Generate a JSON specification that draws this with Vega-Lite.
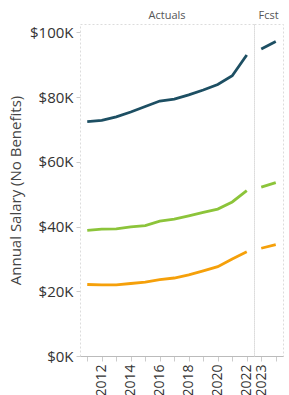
{
  "$schema": "https://vega.github.io/schema/vega-lite/v6.json",
  "padding": {"left": 8, "top": 10, "right": 0, "bottom": 0},
  "bounds": "flush",
  "data": {"values": [
    {"year": 2011, "period": "Actuals", "series": "High", "salary": 72400},
    {"year": 2012, "period": "Actuals", "series": "High", "salary": 72800},
    {"year": 2013, "period": "Actuals", "series": "High", "salary": 73900},
    {"year": 2014, "period": "Actuals", "series": "High", "salary": 75400},
    {"year": 2015, "period": "Actuals", "series": "High", "salary": 77100},
    {"year": 2016, "period": "Actuals", "series": "High", "salary": 78800},
    {"year": 2017, "period": "Actuals", "series": "High", "salary": 79400},
    {"year": 2018, "period": "Actuals", "series": "High", "salary": 80700},
    {"year": 2019, "period": "Actuals", "series": "High", "salary": 82200},
    {"year": 2020, "period": "Actuals", "series": "High", "salary": 83900},
    {"year": 2021, "period": "Actuals", "series": "High", "salary": 86600},
    {"year": 2022, "period": "Actuals", "series": "High", "salary": 93000},
    {"year": 2023, "period": "Fcst", "series": "High", "salary": 94900},
    {"year": 2024, "period": "Fcst", "series": "High", "salary": 97200},
    {"year": 2011, "period": "Actuals", "series": "Median", "salary": 38800},
    {"year": 2012, "period": "Actuals", "series": "Median", "salary": 39200},
    {"year": 2013, "period": "Actuals", "series": "Median", "salary": 39300},
    {"year": 2014, "period": "Actuals", "series": "Median", "salary": 39900},
    {"year": 2015, "period": "Actuals", "series": "Median", "salary": 40300},
    {"year": 2016, "period": "Actuals", "series": "Median", "salary": 41700},
    {"year": 2017, "period": "Actuals", "series": "Median", "salary": 42300},
    {"year": 2018, "period": "Actuals", "series": "Median", "salary": 43300},
    {"year": 2019, "period": "Actuals", "series": "Median", "salary": 44400},
    {"year": 2020, "period": "Actuals", "series": "Median", "salary": 45400},
    {"year": 2021, "period": "Actuals", "series": "Median", "salary": 47600},
    {"year": 2022, "period": "Actuals", "series": "Median", "salary": 51100},
    {"year": 2023, "period": "Fcst", "series": "Median", "salary": 52200},
    {"year": 2024, "period": "Fcst", "series": "Median", "salary": 53600},
    {"year": 2011, "period": "Actuals", "series": "Low", "salary": 22100},
    {"year": 2012, "period": "Actuals", "series": "Low", "salary": 22000},
    {"year": 2013, "period": "Actuals", "series": "Low", "salary": 22000},
    {"year": 2014, "period": "Actuals", "series": "Low", "salary": 22400},
    {"year": 2015, "period": "Actuals", "series": "Low", "salary": 22800},
    {"year": 2016, "period": "Actuals", "series": "Low", "salary": 23600},
    {"year": 2017, "period": "Actuals", "series": "Low", "salary": 24100},
    {"year": 2018, "period": "Actuals", "series": "Low", "salary": 25100},
    {"year": 2019, "period": "Actuals", "series": "Low", "salary": 26300},
    {"year": 2020, "period": "Actuals", "series": "Low", "salary": 27600},
    {"year": 2021, "period": "Actuals", "series": "Low", "salary": 30000},
    {"year": 2022, "period": "Actuals", "series": "Low", "salary": 32200},
    {"year": 2023, "period": "Fcst", "series": "Low", "salary": 33300},
    {"year": 2024, "period": "Fcst", "series": "Low", "salary": 34400}
  ]},
  "facet": {
    "column": {
      "field": "period",
      "type": "nominal",
      "sort": ["Actuals", "Fcst"],
      "header": {"title": null, "labelFontSize": 11, "labelColor": "#555", "labelFont": "Open Sans", "labelPadding": 3}
    }
  },
  "spacing": 0,
  "resolve": {"scale": {"x": "independent"}},
  "spec": {
    "width": {"step": 14.5},
    "height": 332,
    "mark": {"type": "line", "strokeWidth": 2.8},
    "encoding": {
      "x": {
        "field": "year",
        "type": "ordinal",
        "title": null,
        "scale": {"type": "point", "padding": 0.5},
        "axis": {
          "labelAngle": 270,
          "labelAlign": "right",
          "labelBaseline": "middle",
          "labelFont": "Open Sans",
          "labelFontSize": 14,
          "labelColor": "#333",
          "labelPadding": 3,
          "tickColor": "#ccc",
          "tickSize": 5,
          "domainColor": "#bbb",
          "labelOverlap": false,
          "labelExpr": "(datum.value % 2 == 0 && datum.value < 2023) || datum.value == 2023 ? datum.label : ''"
        }
      },
      "y": {
        "field": "salary",
        "type": "quantitative",
        "scale": {"domain": [0, 102600], "nice": false},
        "axis": {
          "title": "Annual Salary (No Benefits)",
          "titleFont": "Open Sans",
          "titleFontSize": 15,
          "titleFontWeight": "normal",
          "titleColor": "#444",
          "titlePadding": 6,
          "values": [0, 20000, 40000, 60000, 80000, 100000],
          "labelExpr": "'$' + format(datum.value / 1000, 'd') + 'K'",
          "labelFont": "Open Sans",
          "labelFontSize": 15,
          "labelColor": "#333",
          "labelPadding": 3,
          "tickColor": "#ccc",
          "tickSize": 4,
          "domain": false,
          "grid": false
        }
      },
      "color": {
        "field": "series",
        "type": "nominal",
        "scale": {"domain": ["High", "Median", "Low"], "range": ["#1d4f63", "#8cc43a", "#f5a00a"]},
        "legend": null
      }
    }
  },
  "config": {
    "view": {"stroke": "#dcdcdc", "strokeDash": [2, 2]}
  }
}
